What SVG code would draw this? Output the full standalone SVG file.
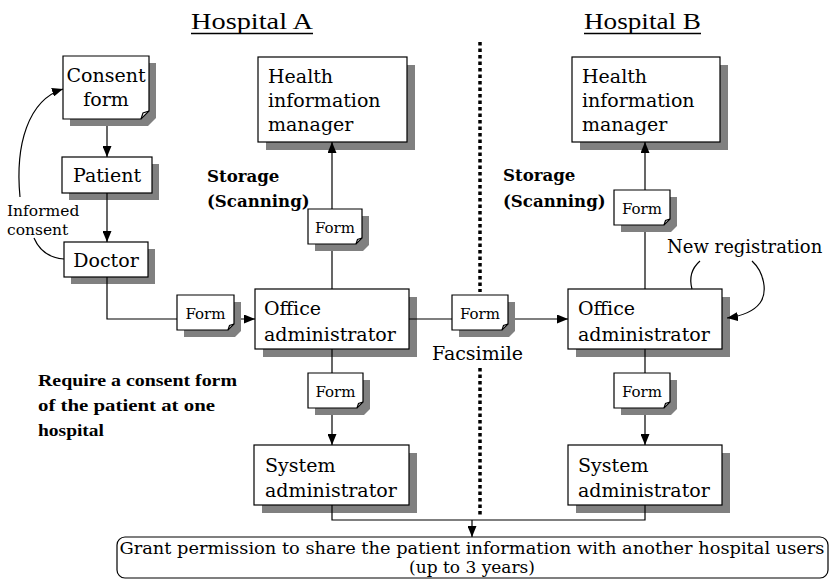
<svg xmlns="http://www.w3.org/2000/svg" width="833" height="581" viewBox="0 0 833 581">
<defs>
<style>
text{font-family:"DejaVu Serif","Liberation Serif",serif;fill:#000}
.t{font-size:19px}
.f{font-size:15px}
.s{font-size:15.5px}
.g{font-size:17px}
.b{font-size:16.6px;font-weight:bold}
.req{font-family:"Liberation Serif",serif;font-size:17px;font-weight:bold}
.title{font-family:"Liberation Serif",serif;font-size:23px}
.box{fill:#fff;stroke:#000;stroke-width:1.2}
.sh{fill:#808080}
.ln{fill:none;stroke:#000;stroke-width:1.2}
.dot{stroke:#000;stroke-width:3.5;stroke-dasharray:3.5 3}
</style>
<marker id="ar" viewBox="0 0 11 9" refX="11" refY="4.5" markerWidth="11" markerHeight="9" markerUnits="userSpaceOnUse" orient="auto">
<path d="M0,0L11,4.5L0,9Z" fill="#000"/>
</marker>
</defs>
<rect width="833" height="581" fill="#fff"/>

<g id="titles">
<text class="title" x="191" y="29" textLength="122" lengthAdjust="spacingAndGlyphs">Hospital A</text>
<line x1="191" y1="33.5" x2="313" y2="33.5" stroke="#000" stroke-width="1.5"/>
<text class="title" x="584" y="29" textLength="117" lengthAdjust="spacingAndGlyphs">Hospital B</text>
<line x1="584" y1="33.5" x2="701" y2="33.5" stroke="#000" stroke-width="1.5"/>
</g>

<g id="divider">
<line class="dot" x1="480" y1="42" x2="480" y2="292"/>
<line class="dot" x1="480" y1="368" x2="480" y2="516"/>
</g>

<g id="consent-form">
<path class="sh" d="M70,63H156V118L148,126H70Z"/>
<path class="box" d="M63,56H149V111L141,119H63Z"/>
<path class="ln" d="M141,119L143,113L149,111"/>
<text class="t" x="106" y="82" text-anchor="middle">Consent</text>
<text class="t" x="106" y="106" text-anchor="middle">form</text>
</g>

<g id="patient">
<rect class="sh" x="69" y="164" width="90" height="36"/>
<rect class="box" x="62" y="157" width="90" height="36"/>
<text class="t" x="107" y="182" text-anchor="middle">Patient</text>
</g>

<g id="doctor">
<rect class="sh" x="71" y="249" width="84" height="35"/>
<rect class="box" x="64" y="242" width="84" height="35"/>
<text class="t" x="106" y="267" text-anchor="middle">Doctor</text>
</g>

<g id="informed-consent-label">
<text class="s" x="7" y="216">Informed</text>
<text class="s" x="7" y="235">consent</text>
</g>

<g id="him-a">
<rect class="sh" x="266" y="65" width="149" height="85"/>
<rect class="box" x="258" y="57" width="149" height="85"/>
<text class="t" x="268" y="83">Health</text>
<text class="t" x="268" y="107">information</text>
<text class="t" x="268" y="131">manager</text>
</g>

<g id="him-b">
<rect class="sh" x="580" y="65" width="148" height="85"/>
<rect class="box" x="572" y="57" width="148" height="85"/>
<text class="t" x="582" y="83">Health</text>
<text class="t" x="582" y="107">information</text>
<text class="t" x="582" y="131">manager</text>
</g>

<g id="storage-a">
<text class="b" x="207" y="182">Storage</text>
<text class="b" x="207" y="207">(Scanning)</text>
</g>
<g id="storage-b">
<text class="b" x="503" y="181">Storage</text>
<text class="b" x="503" y="207">(Scanning)</text>
</g>

<g id="office-a">
<rect class="sh" x="263" y="297" width="154" height="60"/>
<rect class="box" x="255" y="289" width="154" height="60"/>
<text class="t" x="264" y="315">Office</text>
<text class="t" x="264" y="341">administrator</text>
</g>

<g id="office-b">
<rect class="sh" x="576" y="297" width="154" height="60"/>
<rect class="box" x="568" y="289" width="154" height="60"/>
<text class="t" x="578" y="315">Office</text>
<text class="t" x="578" y="341">administrator</text>
</g>

<g id="system-a">
<rect class="sh" x="262" y="453" width="155" height="60"/>
<rect class="box" x="254" y="445" width="155" height="60"/>
<text class="t" x="265" y="472">System</text>
<text class="t" x="265" y="497">administrator</text>
</g>

<g id="system-b">
<rect class="sh" x="576" y="453" width="154" height="60"/>
<rect class="box" x="568" y="445" width="154" height="60"/>
<text class="t" x="578" y="472">System</text>
<text class="t" x="578" y="497">administrator</text>
</g>

<g id="connectors">
<line class="ln" x1="107" y1="126" x2="107" y2="157" marker-end="url(#ar)"/>
<line class="ln" x1="107" y1="193" x2="107" y2="242" marker-end="url(#ar)"/>
<path class="ln" d="M107,277V319H255" marker-end="url(#ar)"/>
<line class="ln" x1="332" y1="289" x2="332" y2="142" marker-end="url(#ar)"/>
<line class="ln" x1="332" y1="349" x2="332" y2="445" marker-end="url(#ar)"/>
<line class="ln" x1="409" y1="319" x2="568" y2="319" marker-end="url(#ar)"/>
<line class="ln" x1="645" y1="289" x2="645" y2="142" marker-end="url(#ar)"/>
<line class="ln" x1="645" y1="349" x2="645" y2="445" marker-end="url(#ar)"/>
<path class="ln" d="M332,505V520H645V505"/>
<line class="ln" x1="472" y1="520" x2="472" y2="537" marker-end="url(#ar)"/>
<path class="ln" d="M20,197C15,145 28,100 63,89" marker-end="url(#ar)"/>
<path class="ln" d="M34,238C40,252 50,258 64,259"/>
<path class="ln" d="M692,289C689,278 692,268 700,261"/>
<path class="ln" d="M752,261C764,272 768,292 760,303C754,311 742,316 727,318" marker-end="url(#ar)"/>
</g>

<g id="form-1">
<path class="sh" d="M184,302H241V331L235,337H184Z"/>
<path class="box" d="M177,295H234V324L228,330H177Z"/>
<path class="ln" d="M228,330L229.5,325.5L234,324"/>
<text class="f" x="205.5" y="319" text-anchor="middle">Form</text>
</g>
<g id="form-2">
<path class="sh" d="M315,216H369V245L363,251H315Z"/>
<path class="box" d="M308,209H362V238L356,244H308Z"/>
<path class="ln" d="M356,244L357.5,239.5L362,238"/>
<text class="f" x="335" y="233" text-anchor="middle">Form</text>
</g>
<g id="form-3">
<path class="sh" d="M315,380H370V409L364,415H315Z"/>
<path class="box" d="M308,373H363V402L357,408H308Z"/>
<path class="ln" d="M357,408L358.5,403.5L363,402"/>
<text class="f" x="335.5" y="397" text-anchor="middle">Form</text>
</g>
<g id="form-fax">
<path class="sh" d="M459,302H515V331L509,337H459Z"/>
<path class="box" d="M452,295H508V324L502,330H452Z"/>
<path class="ln" d="M502,330L503.5,325.5L508,324"/>
<text class="f" x="480" y="319" text-anchor="middle">Form</text>
</g>
<g id="form-5">
<path class="sh" d="M621,197H677V226L671,232H621Z"/>
<path class="box" d="M614,190H670V219L664,225H614Z"/>
<path class="ln" d="M664,225L665.5,220.5L670,219"/>
<text class="f" x="642" y="214" text-anchor="middle">Form</text>
</g>
<g id="form-6">
<path class="sh" d="M621,380H677V409L671,415H621Z"/>
<path class="box" d="M614,373H670V402L664,408H614Z"/>
<path class="ln" d="M664,408L665.5,403.5L670,402"/>
<text class="f" x="642" y="397" text-anchor="middle">Form</text>
</g>

<g id="labels">
<text class="t" x="432" y="360">Facsimile</text>
<text class="t" x="667" y="253" style="font-size:18px">New registration</text>
<text class="req" x="38" y="386" textLength="199" lengthAdjust="spacingAndGlyphs">Require a consent form</text>
<text class="req" x="38" y="411" textLength="177" lengthAdjust="spacingAndGlyphs">of the patient at one</text>
<text class="req" x="38" y="436" textLength="66" lengthAdjust="spacingAndGlyphs">hospital</text>
</g>

<g id="grant">
<rect class="box" x="117" y="537" width="711" height="41" rx="8"/>
<text class="g" x="472" y="554" text-anchor="middle" textLength="705" lengthAdjust="spacingAndGlyphs">Grant permission to share the patient information with another hospital users</text>
<text class="g" x="472" y="573" text-anchor="middle">(up to 3 years)</text>
</g>
</svg>
